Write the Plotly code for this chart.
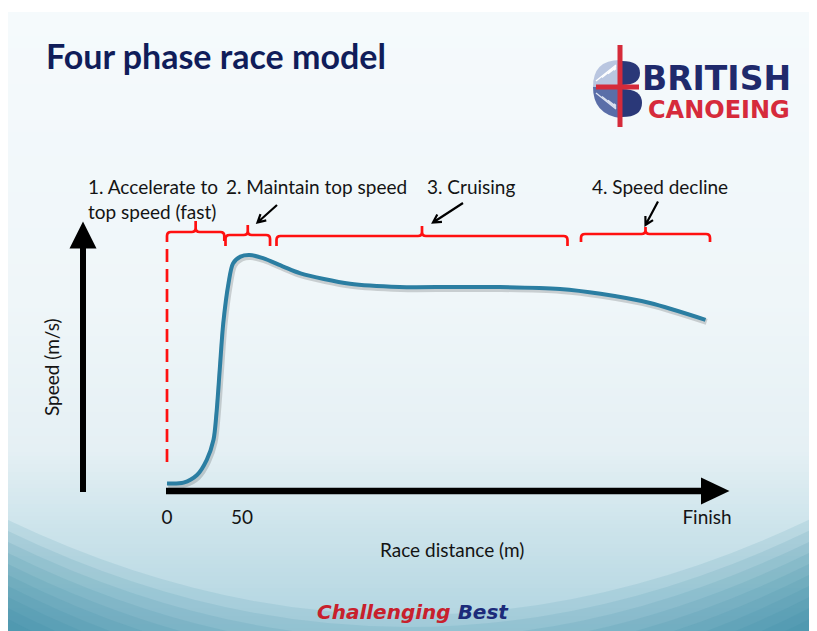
import math
import plotly.graph_objects as go

# browser page adds an 8px body margin: the figure starts at (8, 8) of the window
OX, OY = 8, 8
WIN_W, WIN_H = 817, 631
W, H = WIN_W - OX, WIN_H - OY

# ---------------- data ----------------
distance_m = [0, 11, 20, 26.5, 31, 33, 35.3, 37.5, 41, 44, 49, 55, 64, 77.5, 89,
              122, 155, 189, 222, 262, 289, 322, 359]
speed_ms = [0.19, 0.21, 0.40, 0.78, 1.28, 1.95, 3.11, 4.19, 5.19, 5.69, 5.86, 5.90,
            5.82, 5.61, 5.44, 5.18, 5.10, 5.10, 5.10, 5.05, 4.93, 4.70, 4.28]
tick_vals = [0, 50, 360]
tick_text = ["0", "50", "Finish"]
phase_labels = ["1. Accelerate to<br>top speed (fast)", "2. Maintain top speed",
                "3. Cruising", "4. Speed decline"]
phase_start_m = [0, 39, 73, 276]
phase_end_m = [38.2, 68.7, 267, 362]

# ---------------- scales (window pixel layout) ----------------
X0, PXM = 167, 1.5      # window pixel of 0 m, pixels per metre
Y0, PXS = 491, 40       # window pixel of speed 0, pixels per unit
x_range = [(OX - X0) / PXM, (WIN_W - X0) / PXM]
y_range = [(Y0 - WIN_H) / PXS, (Y0 - OY) / PXS]


def px2p(px, py):
    return (px - OX) / W, 1 - (py - OY) / H


def pt(px, py):
    x, y = px2p(px, py)
    return f"{x:.5f},{y:.5f}"


def mpx(m):
    return X0 + m * PXM


shapes = []
# slide background with vertical gradient
stops = [(12, (245, 250, 252)), (300, (239, 246, 249)), (450, (229, 240, 244)),
         (520, (207, 229, 236)), (631, (176, 212, 224))]


def col_at(y):
    for (ya, ca), (yb, cb) in zip(stops[:-1], stops[1:]):
        if ya <= y <= yb:
            t = (y - ya) / (yb - ya)
            return tuple(round(ca[i] + (cb[i] - ca[i]) * t) for i in range(3))
    return stops[-1][1]


step = 4
for y in range(12, WIN_H, step):
    c = col_at(y + step / 2)
    x0, y1 = px2p(OX, y)
    x1, y0 = px2p(WIN_W + 2, min(y + step + 0.5, WIN_H + 2))
    shapes.append(dict(type="rect", xref="paper", yref="paper", layer="below",
                       x0=x0, x1=x1, y0=y0, y1=y1,
                       line=dict(width=0), fillcolor=f"rgb{c}"))
# bottom teal swooshes
for k in range(10):
    yl, yr, ym = 520 + k * 11, 515 + k * 11, 615 + k * 12
    ctrl = 2 * ym - (yl + yr) / 2
    path = (f"M{pt(OX, yl)} Q{pt(412, ctrl)} {pt(WIN_W + 2, yr)} "
            f"L{pt(WIN_W + 2, WIN_H + 2)} L{pt(OX, WIN_H + 2)} Z")
    shapes.append(dict(type="path", xref="paper", yref="paper", layer="below", path=path,
                       line=dict(width=0), fillcolor="rgba(45,128,158,0.115)"))

# ---------------- logo emblem ----------------
cx, cy, R = 620, 87, 27
shapes.append(dict(type="path", xref="paper", yref="paper",
                   path=f"M{pt(cx, cy)} L{pt(cx - R, cy)} Q{pt(cx - R, cy - R)} {pt(cx, cy - R)} Z",
                   line=dict(width=0), fillcolor="#b9c6e0"))
shapes.append(dict(type="path", xref="paper", yref="paper",
                   path=f"M{pt(cx, cy)} L{pt(cx - R, cy)} Q{pt(cx - R, cy + R)} {pt(cx, cy + R + 4)} Z",
                   line=dict(width=0), fillcolor="#5a6ea8"))
for i in range(4):
    o = 6 * i
    shapes.append(dict(type="path", xref="paper", yref="paper",
                       path=f"M{pt(cx - 24 + o, cy - 6 - o * 0.6)} L{pt(cx - 4, cy - 22 + o * 0.2)}",
                       line=dict(color="white", width=1.3)))
    shapes.append(dict(type="path", xref="paper", yref="paper",
                       path=f"M{pt(cx - 24 + o, cy + 6 + o * 0.6)} L{pt(cx - 4, cy + 22 - o * 0.2)}",
                       line=dict(color="#dfe5f2", width=1.3)))
shapes.append(dict(type="path", xref="paper", yref="paper",
                   path=f"M{pt(cx + 2, 61)} Q{pt(cx + 20, 61)} {pt(cx + 20, 73)} Q{pt(cx + 20, 85)} {pt(cx + 2, 85)} Z",
                   line=dict(width=0), fillcolor="#2a3878"))
shapes.append(dict(type="path", xref="paper", yref="paper",
                   path=f"M{pt(cx + 2, 89)} Q{pt(cx + 22, 89)} {pt(cx + 22, 103)} Q{pt(cx + 22, 117)} {pt(cx + 2, 117)} Z",
                   line=dict(width=0), fillcolor="#2a3878"))
shapes.append(dict(type="path", xref="paper", yref="paper",
                   path=f"M{pt(cx - 2.5, 45)} L{pt(cx + 2.5, 45)} L{pt(cx + 2.5, 127)} L{pt(cx - 2.5, 127)} Z",
                   line=dict(width=0), fillcolor="#d52b3a"))
shapes.append(dict(type="path", xref="paper", yref="paper",
                   path=f"M{pt(596, 84.5)} L{pt(639, 84.5)} L{pt(639, 89.5)} L{pt(596, 89.5)} Z",
                   line=dict(width=0), fillcolor="#d52b3a"))

# ---------------- axis arrows ----------------
shapes.append(dict(type="path", xref="paper", yref="paper",
                   path=f"M{pt(83, 492)} L{pt(83, 246)}",
                   line=dict(color="black", width=6)))
shapes.append(dict(type="path", xref="paper", yref="paper",
                   path=f"M{pt(69.5, 248.5)} L{pt(83, 221.5)} L{pt(96.5, 248.5)} Z",
                   line=dict(width=0), fillcolor="black"))
shapes.append(dict(type="path", xref="paper", yref="paper",
                   path=f"M{pt(166, Y0)} L{pt(703, Y0)}",
                   line=dict(color="black", width=6.5)))
shapes.append(dict(type="path", xref="paper", yref="paper",
                   path=f"M{pt(701, 477.5)} L{pt(729.5, 491)} L{pt(701, 504.5)} Z",
                   line=dict(width=0), fillcolor="black"))

# ---------------- phase brackets ----------------
red = "#ff1010"
br_y = [232, 235, 236, 234]
br_top = [221, 225, 226, 227]
br_leg = [241, 246, 246, 242]
r = 4
for s, e, yb, yt, yl in zip(phase_start_m, phase_end_m, br_y, br_top, br_leg):
    xs, xe = mpx(s), mpx(e)
    xm = (xs + xe) / 2
    path = (f"M{pt(xs, yl)} L{pt(xs, yb + r)} Q{pt(xs, yb)} {pt(xs + r, yb)} "
            f"L{pt(xm - r, yb)} Q{pt(xm, yb)} {pt(xm, yb - r)} L{pt(xm, yt)} "
            f"M{pt(xm, yb - r)} Q{pt(xm, yb)} {pt(xm + r, yb)} "
            f"L{pt(xe - r, yb)} Q{pt(xe, yb)} {pt(xe, yb + r)} L{pt(xe, yl)}")
    shapes.append(dict(type="path", xref="paper", yref="paper", path=path,
                       line=dict(color=red, width=2.7)))
# dashed start line at 0 m
shapes.append(dict(type="line", xref="x", yref="paper", x0=0, x1=0,
                   y0=px2p(0, 462)[1], y1=px2p(0, 241)[1],
                   line=dict(color=red, width=2.7, dash="13px,7px")))

# ---------------- small pointer arrows ----------------
pointers = [((277, 205), (257.5, 222.5)), ((463, 203), (433, 222.5)), ((658, 201.5), (645.5, 225))]
for (tx, ty), (hx, hy) in pointers:
    ang = math.atan2(ty - hy, tx - hx)
    L = 9
    a1 = (hx + L * math.cos(ang + 0.5), hy + L * math.sin(ang + 0.5))
    a2 = (hx + L * math.cos(ang - 0.5), hy + L * math.sin(ang - 0.5))
    shapes.append(dict(type="path", xref="paper", yref="paper",
                       path=f"M{pt(tx, ty)} L{pt(hx, hy)} M{pt(*a1)} L{pt(hx, hy)} L{pt(*a2)}",
                       line=dict(color="black", width=2.2)))

# ---------------- traces ----------------
fig = go.Figure()
fig.add_trace(go.Scatter(x=[d + 1.2 / PXM for d in distance_m], y=[v - 2 / PXS for v in speed_ms],
                         mode="lines", line=dict(color="rgba(0,0,0,0.16)", width=6, shape="spline",
                                                 smoothing=0.8),
                         hoverinfo="skip", showlegend=False))
fig.add_trace(go.Scatter(x=distance_m, y=speed_ms, mode="lines",
                         line=dict(color="#2b7ea2", width=4, shape="spline", smoothing=0.8),
                         hoverinfo="skip", showlegend=False))

# ---------------- annotations ----------------
txt = "#141414"
LF = "Lato"
ann = []


def add_text(text, px, py, size=19, color=txt, xanchor="left", yanchor="middle", family=LF,
             weight="normal", angle=0, align="left", style="normal"):
    x, y = px2p(px, py)
    ann.append(dict(text=text, x=x, y=y, xref="paper", yref="paper", showarrow=False,
                    xanchor=xanchor, yanchor=yanchor, align=align, textangle=angle,
                    font=dict(family=family, size=size, color=color, weight=weight, style=style)))


add_text("Four phase race model", 44, 56, size=34, color="#101d5a", weight="bold")
# logo text
add_text("BRITISH", 640, 78, size=33, color="#1f2a6c", family="DejaVu Sans", weight="bold")
add_text("CANOEING", 646, 110, size=24, color="#d62b3b", family="DejaVu Sans", weight="bold")

# phase labels
label_pos = [(85.5, 198.5), (223.5, 187), (425.5, 187), (590, 187)]
for lab, (px, py) in zip(phase_labels, label_pos):
    add_text(lab, px, py)

add_text("Speed (m/s)", 51, 367, xanchor="center", angle=-90)
add_text("Race distance (m)", 452, 549, xanchor="center")
add_text("<span style='color:#c8202c'>Challenging</span> <span style='color:#1c2b7a'>Best</span>",
         413, 612, size=20, xanchor="center", family="DejaVu Sans", weight="bold", style="italic")

fig.update_layout(
    width=W, height=H, margin=dict(l=0, r=0, t=0, b=0),
    paper_bgcolor="white", plot_bgcolor="rgba(0,0,0,0)",
    shapes=shapes, annotations=ann, showlegend=False,
    xaxis=dict(range=x_range, domain=[0, 1], anchor="free", position=px2p(0, Y0)[1],
               showgrid=False, zeroline=False, showline=False,
               tickvals=tick_vals, ticktext=tick_text, ticks="outside", ticklen=9,
               tickcolor="rgba(0,0,0,0)", tickfont=dict(family=LF, size=19, color=txt),
               fixedrange=True),
    yaxis=dict(range=y_range, domain=[0, 1], visible=False, fixedrange=True),
)

fig.write_html("out.html")
